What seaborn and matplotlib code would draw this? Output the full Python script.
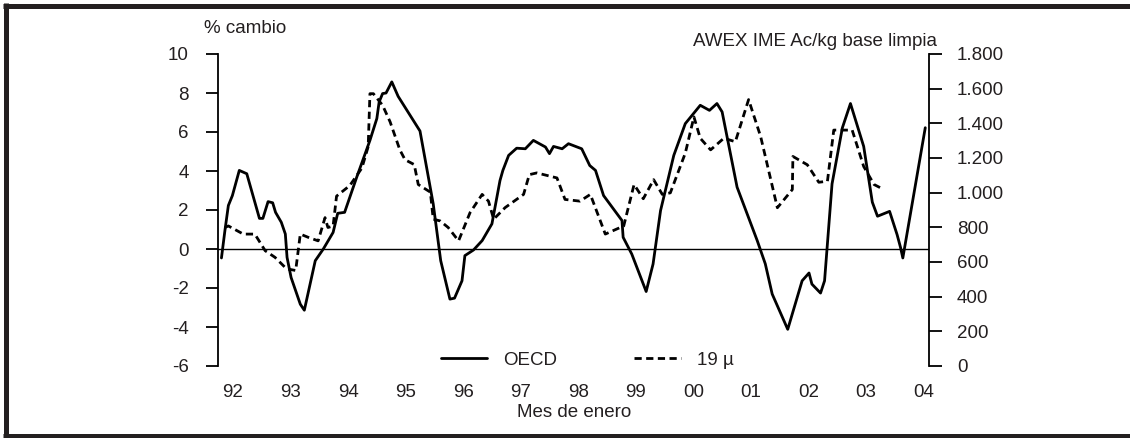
import matplotlib
matplotlib.use("Agg")
import matplotlib.pyplot as plt
from matplotlib.lines import Line2D
from matplotlib.ticker import FuncFormatter
import seaborn as sns
import pandas as pd

# ---- data ----
oecd_year = [1991.80, 1991.86, 1991.92, 1991.99, 1992.11, 1992.24, 1992.46, 1992.52,
             1992.61, 1992.69, 1992.74, 1992.84, 1992.91, 1992.94, 1993.01, 1993.17,
             1993.24, 1993.43, 1993.57, 1993.74, 1993.82, 1993.94, 1994.15, 1994.38,
             1994.50, 1994.54, 1994.60, 1994.66, 1994.76, 1994.87, 1995.25, 1995.48,
             1995.61, 1995.77, 1995.85, 1995.98, 1996.03, 1996.18, 1996.33, 1996.50,
             1996.64, 1996.69, 1996.79, 1996.93, 1997.08, 1997.22, 1997.43, 1997.50,
             1997.57, 1997.72, 1997.83, 1998.06, 1998.20, 1998.30, 1998.44, 1998.76,
             1998.78, 1998.93, 1999.18, 1999.30, 1999.43, 1999.66, 1999.86, 2000.12,
             2000.28, 2000.41, 2000.50, 2000.76, 2001.11, 2001.25, 2001.37, 2001.64,
             2001.89, 2002.01, 2002.06, 2002.21, 2002.28, 2002.41, 2002.59, 2002.73,
             2002.96, 2003.11, 2003.20, 2003.41, 2003.54, 2003.60, 2003.64, 2004.03]
oecd_pct = [-0.46, 0.94, 2.23, 2.74, 4.03, 3.86, 1.57, 1.57,
            2.43, 2.37, 1.88, 1.37, 0.77, -0.43, -1.46, -2.83,
            -3.14, -0.60, 0.00, 0.85, 1.83, 1.88, 3.68, 5.57,
            6.69, 7.54, 7.97, 8.00, 8.57, 7.83, 6.05, 2.31,
            -0.60, -2.57, -2.52, -1.63, -0.34, -0.05, 0.43, 1.29,
            3.51, 4.03, 4.80, 5.17, 5.14, 5.57, 5.23, 4.89,
            5.26, 5.14, 5.40, 5.14, 4.28, 4.03, 2.74, 1.46,
            0.60, -0.26, -2.18, -0.77, 1.97, 4.80, 6.43, 7.37,
            7.11, 7.46, 7.03, 3.17, 0.43, -0.76, -2.31, -4.12,
            -1.63, -1.23, -1.80, -2.26, -1.63, 3.34, 6.22, 7.46,
            5.26, 2.40, 1.68, 1.93, 0.74, 0.08, -0.46, 6.22]

wool_year = [1991.86, 1991.92, 1992.18, 1992.38, 1992.56, 1992.73, 1992.93, 1993.09,
             1993.17, 1993.31, 1993.48, 1993.60, 1993.65, 1993.74, 1993.80, 1994.03,
             1994.24, 1994.35, 1994.38, 1994.44, 1994.60, 1994.73, 1994.90, 1994.99,
             1995.15, 1995.22, 1995.43, 1995.48, 1995.60, 1995.74, 1995.92, 1996.12,
             1996.33, 1996.44, 1996.53, 1996.73, 1997.05, 1997.15, 1997.28, 1997.63,
             1997.77, 1998.03, 1998.21, 1998.47, 1998.79, 1998.97, 1999.13, 1999.31,
             1999.46, 1999.60, 1999.86, 2000.01, 2000.12, 2000.30, 2000.53, 2000.73,
             2000.96, 2001.17, 2001.46, 2001.72, 2001.73, 2001.98, 2002.18, 2002.33,
             2002.44, 2002.76, 2002.96, 2003.14, 2003.31]
wool_price = [799, 808, 761, 761, 665, 627, 561, 551,
              761, 742, 722, 856, 799, 808, 980, 1041,
              1142, 1266, 1571, 1571, 1504, 1409, 1247, 1190,
              1162, 1047, 1003, 847, 837, 799, 722, 885,
              990, 951, 847, 914, 990, 1104, 1114, 1085,
              961, 951, 990, 761, 808, 1047, 965, 1075,
              990, 999, 1228, 1437, 1314, 1247, 1314, 1294,
              1537, 1323, 913, 1018, 1209, 1161, 1060, 1066,
              1361, 1361, 1151, 1047, 1018]

year_ticks = [1992, 1993, 1994, 1995, 1996, 1997, 1998, 1999, 2000, 2001, 2002, 2003, 2004]
year_labels = ["92", "93", "94", "95", "96", "97", "98", "99", "00", "01", "02", "03", "04"]
left_ticks = [-6, -4, -2, 0, 2, 4, 6, 8, 10]
right_ticks = [0, 200, 400, 600, 800, 1000, 1200, 1400, 1600, 1800]

oecd_df = pd.DataFrame({"year": oecd_year, "pct": oecd_pct})
wool_df = pd.DataFrame({"year": wool_year, "price": wool_price})

# ---- style ----
sns.set_theme(style="white")
plt.rcParams["font.family"] = ["Liberation Sans", "DejaVu Sans"]
TXT = "#231f20"
FS = 13.5

W, H = 1130, 438
fig = plt.figure(figsize=(W / 100, H / 100), dpi=100)
ax_l, ax_r, ax_t, ax_b = 218, 929.3, 54, 366
ax = fig.add_axes([ax_l / W, 1 - ax_b / H, (ax_r - ax_l) / W, (ax_b - ax_t) / H])
ax2 = ax.twinx()

sns.lineplot(data=oecd_df, x="year", y="pct", ax=ax, color="black", lw=2.0,
             sort=False, estimator=None, label="OECD", legend=False)
sns.lineplot(data=wool_df, x="year", y="price", ax=ax2, color="black", lw=2.0,
             sort=False, estimator=None, label="19 µ", legend=False,
             dashes=False)
ax2.lines[0].set_dashes((2.6, 1.6))

ax.axhline(0, color="black", lw=1.0, zorder=1)

ax.set_xlim(1991.74, 2004.1)
ax.set_ylim(-6, 10)
ax2.set_ylim(0, 1800)

for a in (ax, ax2):
    for s in ("top", "bottom"):
        a.spines[s].set_visible(False)
    a.set_facecolor("none")
ax.spines["right"].set_visible(False)
ax2.spines["left"].set_visible(False)
ax.spines["left"].set_color("black")
ax.spines["left"].set_linewidth(1.3)
ax2.spines["right"].set_color("black")
ax2.spines["right"].set_linewidth(1.3)

ax.set_yticks(left_ticks)
ax.set_yticklabels([str(v) for v in left_ticks])
ax2.set_yticks(right_ticks)
ax2.yaxis.set_major_formatter(FuncFormatter(lambda v, p: f"{int(v):,}".replace(",", ".")))
ax.tick_params(axis="y", which="major", direction="out", length=9, width=1.3,
               color="black", pad=12, labelsize=FS, labelcolor=TXT, left=True)
ax2.tick_params(axis="y", which="major", direction="out", length=9, width=1.3,
                color="black", pad=11, labelsize=FS, labelcolor=TXT, right=True)

ax.set_xticks(year_ticks)
ax.set_xticklabels(year_labels)
ax.tick_params(axis="x", length=0, pad=13, labelsize=FS, labelcolor=TXT)
ax.set_xlabel("Mes de enero", fontsize=FS, color=TXT, labelpad=2)
ax.set_ylabel("")
ax2.set_ylabel("")

# legend
h1 = Line2D([], [], color="black", lw=2.0)
h2 = Line2D([], [], color="black", lw=2.0, dashes=(2.6, 1.6))
leg = ax.legend([h1, h2], ["OECD", "19 µ"], ncol=2, frameon=False,
                loc="center", bbox_to_anchor=(0.519, 0.018),
                handlelength=2.5, handletextpad=0.85, columnspacing=4.1,
                fontsize=FS, borderaxespad=0, borderpad=0)
for t in leg.get_texts():
    t.set_color(TXT)

# axis titles
fig.text(204 / W, 1 - 33 / H, "% cambio", fontsize=FS, color=TXT,
         ha="left", va="baseline")
fig.text(937 / W, 1 - 46 / H, "AWEX IME Ac/kg base limpia", fontsize=FS, color=TXT,
         ha="right", va="baseline")

# outer frame (top, left, bottom)
lw_frame = 3.6
fig.add_artist(Line2D([3 / W, 1], [1 - 5.8 / H, 1 - 5.8 / H], transform=fig.transFigure,
                      color=TXT, lw=lw_frame, solid_capstyle="butt"))
fig.add_artist(Line2D([3 / W, 1], [1 - 435.5 / H, 1 - 435.5 / H], transform=fig.transFigure,
                      color=TXT, lw=lw_frame, solid_capstyle="butt"))
fig.add_artist(Line2D([5.5 / W, 5.5 / W], [1 - 3.3 / H, 1 - 438 / H], transform=fig.transFigure,
                      color=TXT, lw=lw_frame, solid_capstyle="butt"))

fig.savefig("out.png", dpi=100)
